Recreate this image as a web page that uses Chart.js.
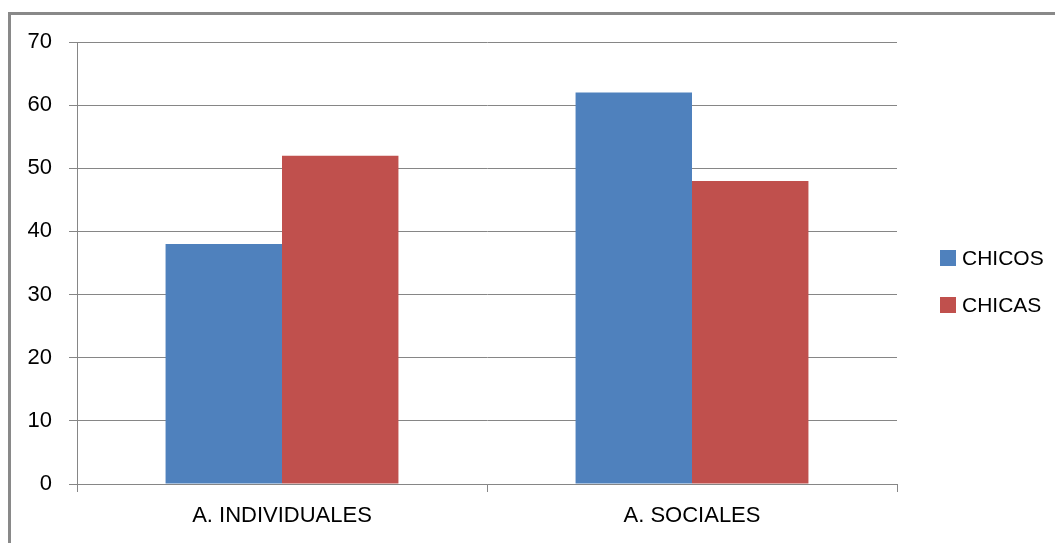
<!DOCTYPE html>
<html>
<head>
<meta charset="utf-8">
<script src="https://cdn.jsdelivr.net/npm/chart.js@4/dist/chart.umd.min.js"></script>
<style>
  html, body { margin: 0; padding: 0; background: #fff; }
  #wrap { position: relative; width: 1055px; height: 543px; overflow: hidden; }
  /* marco gris del gráfico (solo se ven los bordes izquierdo y superior) */
  #marco { position: absolute; left: 8px; top: 12px; width: 1100px; height: 600px;
           border-left: 3px solid #898989; border-top: 3px solid #898989; }
  canvas { position: absolute; left: 0; top: 0; }
</style>
</head>
<body>
<div id="wrap">
  <div id="marco"></div>
  <canvas id="grafico" width="1055" height="543"></canvas>
</div>
<script>
// --- Datos del gráfico ---
const categorias = ['A. INDIVIDUALES', 'A. SOCIALES'];
const chicos = [38, 62];
const chicas = [52, 48];
const ticksY = [0, 10, 20, 30, 40, 50, 60, 70];

const FUENTE = '"Liberation Sans", Arial, sans-serif';
const GRIS = '#868686';

// Leyenda a la derecha, dibujada a mano para que quede como en el original
const leyendaPlugin = {
    id: 'leyendaDerecha',
    afterDraw(chart) {
        const ctx = chart.ctx;
        const area = chart.chartArea;
        const x = area.right + 43;
        const filas = [area.top + 216, area.top + 263];
        ctx.save();
        ctx.font = '21px ' + FUENTE;
        ctx.textBaseline = 'middle';
        ctx.textAlign = 'left';
        chart.data.datasets.forEach((ds, i) => {
            const y = filas[i];
            ctx.fillStyle = ds.backgroundColor;
            ctx.fillRect(x, y - 8, 16, 16);
            ctx.fillStyle = '#000';
            ctx.fillText(ds.label, x + 22, y + 1);
        });
        ctx.restore();
    }
};

new Chart(document.getElementById('grafico'), {
    type: 'bar',
    data: {
        labels: categorias,
        datasets: [
            { label: 'CHICOS', data: chicos, backgroundColor: '#4F81BD' },
            { label: 'CHICAS', data: chicas, backgroundColor: '#C0504D' }
        ]
    },
    options: {
        responsive: false,
        animation: false,
        layout: { padding: { top: 42, right: 158, left: 0, bottom: 0 } },
        categoryPercentage: 0.568,
        barPercentage: 1,
        plugins: {
            legend: { display: false },
            tooltip: { enabled: false }
        },
        scales: {
            x: {
                afterFit: s => { s.height = 59; },
                grid: { drawOnChartArea: false, drawTicks: true, tickLength: 8, color: GRIS, offset: true },
                border: { display: true, color: GRIS },
                ticks: { color: '#000', padding: 11, font: { family: FUENTE, size: 22 } }
            },
            y: {
                min: 0,
                max: 70,
                afterFit: s => { s.width = 77; },
                afterBuildTicks: s => { s.ticks = ticksY.map(v => ({ value: v })); },
                grid: { color: GRIS, tickLength: 8 },
                border: { display: true, color: GRIS },
                ticks: { color: '#000', padding: 17, font: { family: FUENTE, size: 22 } }
            }
        }
    },
    plugins: [leyendaPlugin]
});
</script>
</body>
</html>
